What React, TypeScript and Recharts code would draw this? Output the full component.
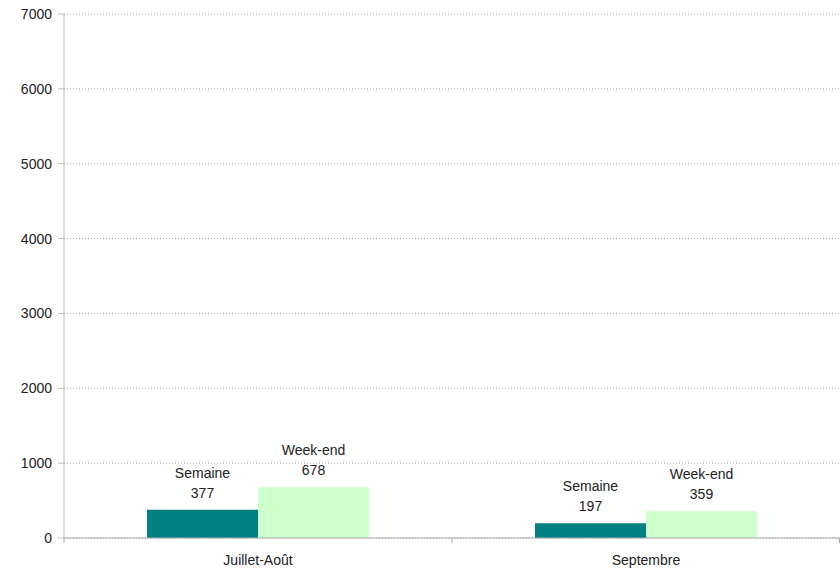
import { BarChart, Bar, XAxis, YAxis, CartesianGrid, LabelList } from "recharts";

const categories = ["Juillet-Août", "Septembre"];
const semaine = [377, 197];
const weekend = [678, 359];
const yTicks = [0, 1000, 2000, 3000, 4000, 5000, 6000, 7000];

const data = categories.map((name, i) => ({
  name,
  semaine: semaine[i],
  weekend: weekend[i],
}));

const FONT = "'Liberation Sans', Arial, sans-serif";
const X_TICK_MARGIN = 17;

// deux lignes au-dessus de la barre : nom de la série puis valeur
const makeLabel = (serie: string) => (props: any) => {
  const { x, y, width, value } = props;
  const cx = x + width / 2;
  return (
    <text x={cx} textAnchor="middle" fontSize={14} fill="#222" fontFamily={FONT}>
      <tspan x={cx} y={y - 32}>{serie}</tspan>
      <tspan x={cx} y={y - 12}>{value}</tspan>
    </text>
  );
};

// libellé de catégorie + petits traits aux limites des catégories
const CategoryTick = (props: any) => {
  const { x, y, payload, index, visibleTicksCount } = props;
  const half = payload.offset || 0;
  const top = y - X_TICK_MARGIN;
  const last = index === visibleTicksCount - 1;
  return (
    <g>
      <line x1={x - half} x2={x - half} y1={top} y2={top + 5} stroke="#aaa" />
      {last && <line x1={x + half - 0.5} x2={x + half - 0.5} y1={top} y2={top + 5} stroke="#aaa" />}
      <text x={x} y={y} dy="0.71em" textAnchor="middle" fontSize={14} fill="#222" fontFamily={FONT}>
        {payload.value}
      </text>
    </g>
  );
};

export default function App() {
  return (
    <div style={{ position: "absolute", left: 0, top: 0 }}>
      <BarChart
        width={840}
        height={568}
        data={data}
        barGap={0}
        margin={{ top: 14, right: 0, bottom: 0, left: 0 }}
        style={{ fontFamily: FONT }}
      >
        <CartesianGrid vertical={false} stroke="#aaa" strokeDasharray="1 2" />
        <XAxis
          dataKey="name"
          height={30}
          stroke="#aaa"
          tickLine={false}
          tickSize={0}
          tickMargin={X_TICK_MARGIN}
          tick={<CategoryTick />}
        />
        <YAxis
          width={64}
          domain={[0, 7000]}
          ticks={yTicks}
          interval={0}
          tickSize={6}
          tickMargin={6}
          stroke="#bbb"
          tick={{ fontSize: 14, fill: "#222" }}
        />
        <Bar dataKey="semaine" name="Semaine" fill="#008080" barSize={111} isAnimationActive={false}>
          <LabelList dataKey="semaine" content={makeLabel("Semaine")} />
        </Bar>
        <Bar dataKey="weekend" name="Week-end" fill="#ccffcc" barSize={111} isAnimationActive={false}>
          <LabelList dataKey="weekend" content={makeLabel("Week-end")} />
        </Bar>
      </BarChart>
    </div>
  );
}
